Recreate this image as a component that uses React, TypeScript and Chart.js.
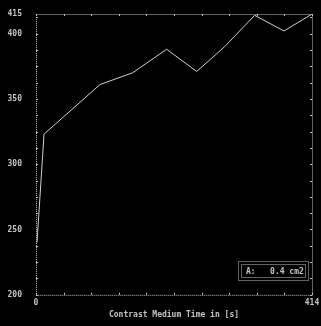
import React, { useEffect, useRef } from "react";
import { Chart, registerables } from "chart.js";

Chart.register(...registerables);

const times = [1.5, 12, 96, 145, 196, 241, 283, 328, 372, 414];
const values = [240, 323, 361, 370, 388, 371, 390, 414, 402, 415];
const yTicks = [200, 250, 300, 350, 400, 415];
const xTicks = [0, 414];
const xTitle = "Contrast Medium Time in [s]";
const legendText = "A:   0.4 cm2";

const FG = "#c4c4c4";
const FONT = "'DejaVu Sans Mono', monospace";

const framePlugin = {
  id: "frame",
  beforeDraw(chart: any) {
    const { ctx, width, height } = chart;
    ctx.save();
    ctx.fillStyle = "#000";
    ctx.fillRect(0, 0, width, height);
    ctx.restore();
  },
  afterDraw(chart: any) {
    const { ctx, chartArea: a, scales } = chart;
    ctx.save();
    ctx.strokeStyle = FG;
    ctx.lineWidth = 1;
    ctx.setLineDash([1, 1]);
    ctx.strokeRect(a.left + 0.5, a.top + 0.5, a.right - a.left, a.bottom - a.top);
    ctx.setLineDash([]);
    const y = scales.y;
    for (let v = 200; v <= 415; v += 12.5) {
      const py = Math.round(y.getPixelForValue(v)) + 0.5;
      ctx.beginPath();
      ctx.moveTo(a.left, py);
      ctx.lineTo(a.left + 2, py);
      ctx.moveTo(a.right, py);
      ctx.lineTo(a.right - 2, py);
      ctx.stroke();
    }
    const x = scales.x;
    for (let v = 0; v <= 414; v += 41.4) {
      const px = Math.round(x.getPixelForValue(v)) + 0.5;
      ctx.beginPath();
      ctx.moveTo(px, a.bottom);
      ctx.lineTo(px, a.bottom - 2);
      ctx.moveTo(px, a.top);
      ctx.lineTo(px, a.top + 2);
      ctx.stroke();
    }
    // legend box
    const bx = Math.round(x.getPixelForValue(303));
    const by = Math.round(y.getPixelForValue(226));
    const bw = 70;
    const bh = 19;
    ctx.setLineDash([1, 1]);
    ctx.strokeRect(bx + 0.5, by + 0.5, bw, bh);
    ctx.strokeRect(bx + 3.5, by + 3.5, bw - 6, bh - 6);
    ctx.setLineDash([]);
    ctx.fillStyle = FG;
    ctx.font = `bold 8px ${FONT}`;
    ctx.textBaseline = "middle";
    ctx.textAlign = "left";
    ctx.fillText(legendText, bx + 8, by + bh / 2 + 1);
    ctx.restore();
  },
};

export default function App() {
  const ref = useRef<HTMLCanvasElement>(null);
  useEffect(() => {
    document.body.style.margin = "0";
    document.body.style.background = "#000";
    const chart = new Chart(ref.current!, {
      type: "line",
      data: {
        datasets: [
          {
            data: times.map((t, i) => ({ x: t, y: values[i] })),
            borderColor: "#d0d0d0",
            borderWidth: 1,
            pointRadius: 0,
            tension: 0,
            fill: false,
          },
        ],
      },
      options: {
        animation: false,
        responsive: false,
        layout: { padding: { top: 14, right: 9, left: 0, bottom: 6 } },
        plugins: { legend: { display: false }, tooltip: { enabled: false } },
        scales: {
          x: {
            type: "linear",
            min: 0,
            max: 414,
            grid: { display: false, drawTicks: false },
            border: { display: false },
            afterBuildTicks: (s: any) => {
              s.ticks = xTicks.map((v) => ({ value: v }));
            },
            afterFit: (s: any) => {
              s.paddingLeft = 0;
              s.paddingRight = 0;
            },
            ticks: {
              color: FG,
              font: { family: FONT, size: 8, weight: "bold" },
              padding: 3,
              maxRotation: 0,
              autoSkip: false,
              callback: (v: any) => String(v),
            },
            title: {
              display: true,
              text: xTitle,
              color: FG,
              font: { family: FONT, size: 8, weight: "bold" },
              padding: { top: 0, bottom: 0 },
            },
          },
          y: {
            type: "linear",
            min: 200,
            max: 415,
            grid: { display: false, drawTicks: false },
            border: { display: false },
            afterBuildTicks: (s: any) => {
              s.ticks = yTicks.map((v) => ({ value: v }));
            },
            afterFit: (s: any) => {
              s.width = 36;
              s.paddingTop = 0;
              s.paddingBottom = 0;
            },
            ticks: {
              color: FG,
              font: { family: FONT, size: 8, weight: "bold" },
              padding: 14,
              autoSkip: false,
              callback: (v: any) => String(v),
            },
          },
        },
      },
      plugins: [framePlugin],
    } as any);
    return () => chart.destroy();
  }, []);
  return <canvas ref={ref} width={321} height={326} style={{ display: "block" }} />;
}
